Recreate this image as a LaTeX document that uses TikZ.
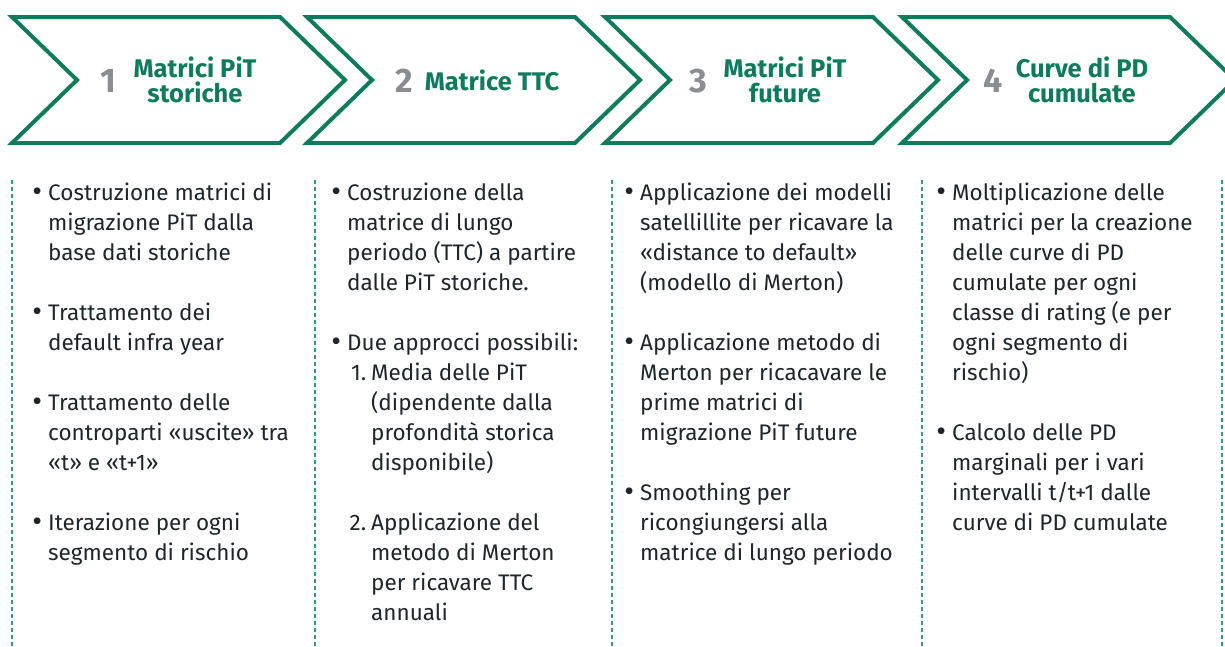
\documentclass[tikz,border=0pt]{standalone}
\usepackage{fontspec}
\setmainfont{Fira Sans}
\usetikzlibrary{positioning}

\definecolor{stepgreen}{HTML}{0E7A5E}
\definecolor{dashgreen}{HTML}{2E9C80}
\definecolor{numgray}{HTML}{8A8E92}
\definecolor{bodytext}{HTML}{1C262B}

\tikzset{
  chevron/.style={draw=stepgreen, line width=4pt, line join=miter},
  stepnum/.style={text=numgray, font=\fontsize{34}{34}\selectfont\bfseries, inner sep=0pt},
  steptitle/.style={text=stepgreen, font=\fontsize{25.5}{25}\selectfont\bfseries, align=center, inner sep=0pt},
  bodyitem/.style={text=bodytext, font=\fontsize{22.5}{30}\selectfont, align=left, anchor=north west, inner sep=0pt},
  divider/.style={dashgreen, line width=1.4pt, dash pattern=on 4pt off 3pt},
}
% first line carries a strut: node top = baseline - 21pt
\newcommand{\bul}{\strut\llap{\raisebox{-1.5pt}{\fontsize{30}{30}\selectfont\textbullet}\hspace{6pt}}}
\newcommand{\enumno}[1]{\strut\llap{#1\hspace{5pt}}}

\begin{document}
\begin{tikzpicture}[x=1pt, y=-1pt]
        \clip (0,0) rectangle (1225,646);
        % chevrons
        \foreach \x in {12,307,605,902}
          \draw[chevron] (\x,17) -- ++(268,0) -- ++(65,63) -- ++(-65,63)
            -- ++(-268,0) -- ++(65,-63) -- cycle;
        % dividers
        \foreach \x in {12,315,612,922,1222}
          \draw[divider] (\x,180) -- (\x,646);

        % step titles
        \node[stepnum] (n1) at (108,81) {1};
        \node[steptitle] (t1) at (195,80) {Matrici PiT\\storiche};
        \node[stepnum] (n2) at (404,81) {2};
        \node[steptitle] (t2) at (492,80) {Matrice TTC};
        \node[stepnum] (n3) at (698,81) {3};
        \node[steptitle] (t3) at (785,80) {Matrici PiT\\future};
        \node[stepnum] (n4) at (993,81) {4};
        \node[steptitle] (t4) at (1082,80) {Curve di PD\\cumulate};

        % column 1
        \node[bodyitem] (a1) at (48,179) {\bul Costruzione matrici di\\migrazione PiT dalla\\base dati storiche};
        \node[bodyitem] (a2) at (48,299) {\bul Trattamento dei\\default infra year};
        \node[bodyitem] (a3) at (48,389) {\bul Trattamento delle\\controparti «uscite» tra\\«t» e «t+1»};
        \node[bodyitem] (a4) at (48,509) {\bul Iterazione per ogni\\segmento di rischio};

        % column 2
        \node[bodyitem] (b1) at (347,179) {\bul Costruzione della\\matrice di lungo\\periodo (TTC) a partire\\dalle PiT storiche.};
        \node[bodyitem] (b2) at (347,329) {\bul Due approcci possibili:};
        \node[bodyitem] (b3) at (371,359) {\enumno{1.}Media delle PiT\\(dipendente dalla\\profondità storica\\disponibile)};
        \node[bodyitem] (b4) at (371,509) {\enumno{2.}Applicazione del\\metodo di Merton\\per ricavare TTC\\annuali};

        % column 3
        \node[bodyitem] (c1) at (640,179) {\bul Applicazione dei modelli\\satellillite per ricavare la\\«distance to default»\\(modello di Merton)};
        \node[bodyitem] (c2) at (640,329) {\bul Applicazione metodo di\\Merton per ricacavare le\\prime matrici di\\migrazione PiT future};
        \node[bodyitem] (c3) at (640,479) {\bul Smoothing per\\ricongiungersi alla\\matrice di lungo periodo};

        % column 4
        \node[bodyitem] (d1) at (952,179) {\bul Moltiplicazione delle\\matrici per la creazione\\delle curve di PD\\cumulate per ogni\\classe di rating (e per\\ogni segmento di\\rischio)};
        \node[bodyitem] (d2) at (952,419) {\bul Calcolo delle PD\\marginali per i vari\\intervalli t/t+1 dalle\\curve di PD cumulate};
    \end{tikzpicture}
\end{document}
